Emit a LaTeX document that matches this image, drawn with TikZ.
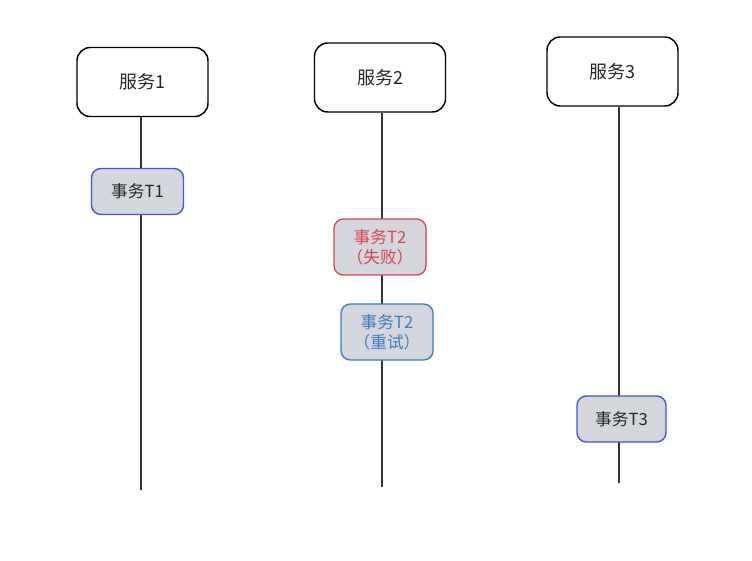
\documentclass[tikz,border=0pt]{standalone}
\usepackage{fontspec}
\newfontfamily\cjk{Noto Sans CJK SC}
\definecolor{boxfill}{HTML}{D3D7DD}
\definecolor{tblue}{HTML}{3F55CF}
\definecolor{tred}{HTML}{D9434B}
\definecolor{rblue}{HTML}{3A7CC3}
\definecolor{lgray}{HTML}{333333}
\begin{document}
\begin{tikzpicture}[x=0.75pt,y=-0.75pt,
  svc/.style={draw=black, line width=1.1pt, rounded corners=10pt, fill=white,
    minimum width=131*0.75pt, minimum height=69*0.75pt, font=\cjk\fontsize{13.5}{15}\selectfont, text=black!85},
  tx/.style={draw=tblue, line width=1pt, rounded corners=7pt, fill=boxfill,
    minimum width=92*0.75pt, minimum height=46*0.75pt, font=\cjk\fontsize{12.5}{15}\selectfont, text=black!85, align=center, inner sep=2pt},
  life/.style={draw=lgray, line width=1.1pt}]
\useasboundingbox (0,0) rectangle (752,560);
% lifeline ends
\coordinate (e1) at (141,490);
\coordinate (e2) at (382,487);
\coordinate (e3) at (619,483);
% services
\node[svc] (s1) at (142.5,82) {服务1};
\node[svc] (s2) at (380,77.5) {服务2};
\node[svc] (s3) at (612.5,71.5) {服务3};
% lifelines
\draw[life] (s1.south -| e1) -- (e1);
\draw[life] (s2.south -| e2) -- (e2);
\draw[life] (s3.south -| e3) -- (e3);
% transactions
\node[tx] (t1) at (137.5,191.5) {事务T1};
\node[tx, draw=tred, text=tred, minimum height=56*0.75pt] (t2f) at (380,247) {事务T2\\（失败）};
\node[tx, draw=rblue, text=rblue, minimum height=56*0.75pt] (t2r) at (387,332) {事务T2\\（重试）};
\node[tx, minimum width=89*0.75pt] (t3) at (621.5,419) {事务T3};
\end{tikzpicture}
\end{document}
